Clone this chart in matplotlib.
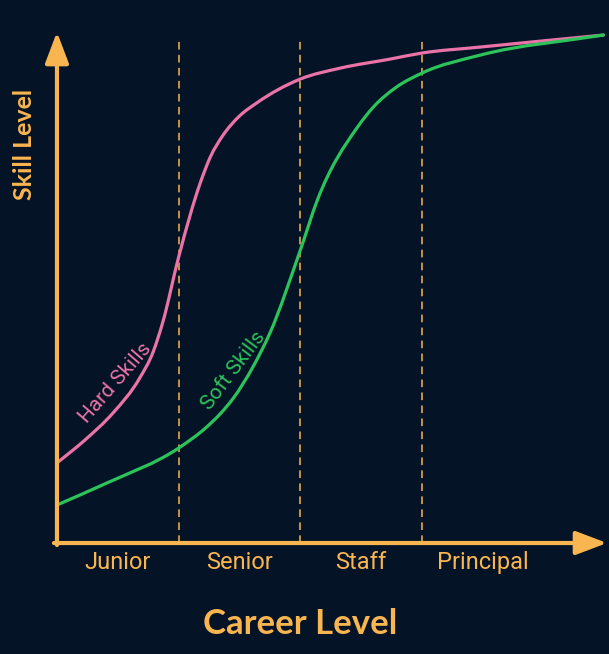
import matplotlib
matplotlib.use("Agg")
import matplotlib.pyplot as plt
from matplotlib.patches import FancyArrowPatch, PathPatch
from matplotlib.path import Path
import numpy as np

# Career levels (x positions 0..4, one band per level)
levels = ["Junior", "Senior", "Staff", "Principal"]
level_bounds = [1, 2, 3]

# Skill curves (skill level 0-100)
hard_x = [0.00, 0.23, 0.46, 0.68, 0.79, 0.87, 1.00, 1.18, 1.26, 1.36,
          1.50, 1.64, 2.00, 2.33, 2.74, 3.00, 3.48, 4.49]
hard_y = [15.75, 20.28, 25.59, 32.48, 37.60, 43.50, 56.30, 71.06, 75.98, 80.12,
          84.06, 86.61, 91.34, 93.50, 95.28, 96.46, 97.64, 100.0]
soft_x = [0.00, 0.41, 1.00, 1.23, 1.34, 1.45, 1.61, 1.75, 2.00, 2.14,
          2.47, 2.60, 2.79, 3.00, 3.48, 4.49]
soft_y = [7.48, 11.81, 18.70, 22.83, 25.39, 28.54, 34.65, 41.34, 57.68, 67.52,
          81.89, 85.83, 89.76, 92.52, 96.06, 100.0]

BG = "#041326"
ORANGE = "#f9b54f"
PINK = "#ea73a8"
GREEN = "#2cc45a"


def smooth_path(xs, ys):
    # cubic hermite in x, written as bezier segments so matplotlib draws it
    x = np.asarray(xs, float)
    y = np.asarray(ys, float)
    h = np.diff(x)
    d = np.diff(y) / h
    m = np.empty_like(y)
    m[0], m[-1] = d[0], d[-1]
    for i in range(1, len(x) - 1):
        m[i] = (h[i - 1] * d[i] + h[i] * d[i - 1]) / (h[i - 1] + h[i])
    verts = [(x[0], y[0])]
    codes = [Path.MOVETO]
    for i in range(len(x) - 1):
        verts += [(x[i] + h[i] / 3, y[i] + m[i] * h[i] / 3),
                  (x[i + 1] - h[i] / 3, y[i + 1] - m[i + 1] * h[i] / 3),
                  (x[i + 1], y[i + 1])]
        codes += [Path.CURVE4] * 3
    return Path(verts, codes)


fig = plt.figure(figsize=(6.09, 6.54), dpi=100, facecolor=BG)
ax = fig.add_axes([0, 0, 1, 1])
ax.set_facecolor(BG)
ax.set_xlim(-0.468, 4.536)
ax.set_ylim(-21.85, 106.9)
ax.axis("off")

# Dashed level boundaries
for b in level_bounds:
    ax.plot([b, b], [0, 99.5], color=ORANGE, lw=1.1, ls=(0, (5, 3.5)), zorder=1)

# Curves
ax.add_patch(PathPatch(smooth_path(hard_x, hard_y), fill=False, ec=PINK, lw=2.3,
                       capstyle="round", zorder=3))
ax.add_patch(PathPatch(smooth_path(soft_x, soft_y), fill=False, ec=GREEN, lw=2.3,
                       capstyle="round", zorder=3))

# Axes with arrow heads
style = "-|>,head_length=0.95,head_width=0.36"
ax.add_patch(FancyArrowPatch((-0.025, 0), (4.52, 0), arrowstyle=style, mutation_scale=20,
                             color=ORANGE, lw=3, shrinkA=0, shrinkB=0, zorder=4))
ax.add_patch(FancyArrowPatch((0, -0.4), (0, 100.6), arrowstyle=style, mutation_scale=20,
                             color=ORANGE, lw=3, shrinkA=0, shrinkB=0, zorder=4))

# Level labels
for i, name in enumerate(levels):
    ax.text(i + 0.5, -3.9, name, color=ORANGE, fontsize=17, family="Roboto",
            ha="center", va="center")

# Curve labels
ax.text(0.48, 31.5, "Hard Skills", color=PINK, fontsize=15, family="Roboto",
        rotation=49, ha="center", va="center", rotation_mode="anchor")
ax.text(1.455, 34.0, "Soft Skills", color=GREEN, fontsize=15, family="Roboto",
        rotation=53, ha="center", va="center", rotation_mode="anchor")

# Axis titles
ax.text(2.0, -16.0, "Career Level", color=ORANGE, fontsize=25, family="Lato",
        weight="bold", ha="center", va="center")
ax.text(-0.27, 78.5, "Skill Level", color=ORANGE, fontsize=18, family="Lato",
        weight="bold", rotation=90, ha="center", va="center")

fig.savefig("out.png", dpi=100, facecolor=BG)
